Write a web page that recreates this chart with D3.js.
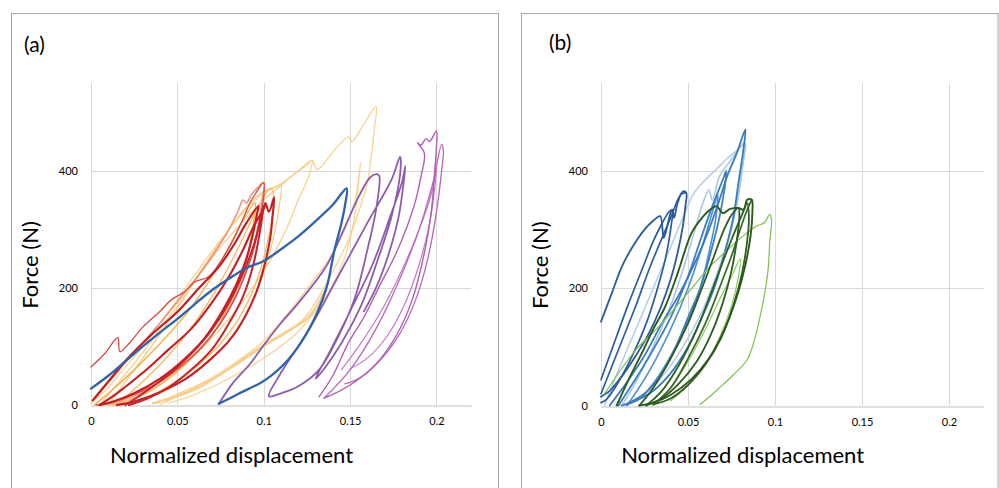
<!DOCTYPE html>
<html><head><meta charset="utf-8">
<script src="https://cdn.jsdelivr.net/npm/d3@7"></script>
<style>body{margin:0;background:#fff}svg{display:block}text{font-family:Lato,"Open Sans",sans-serif;fill:#000}</style>
</head><body><svg id="c" width="999" height="488"></svg>
<script>
// ---------- axis data ----------
const xTicks = [0, 0.05, 0.1, 0.15, 0.2];
const xTickLabels = ["0", "0.05", "0.1", "0.15", "0.2"];
const yTicks = [0, 200, 400];
const yTickLabels = ["0", "200", "400"];
const xDomain = [0, 0.22];
const yDomain = [0, 550];
const panelLabels = ["(a)", "(b)"];
const xTitle = "Normalized displacement";
const yTitle = "Force (N)";

// ---------- panel (a) curves [displacement, force] ----------
const aBlue = [[0,28],[0.01,50],[0.02,75],[0.03,100],[0.04,124],[0.05,147],[0.06,172],[0.07,196],[0.08,216],[0.09,234],[0.1,246],[0.11,266],[0.12,288],[0.13,314],[0.14,342],[0.148,370],[0.147,340],[0.145,311],[0.141,265],[0.136,197],[0.126,128],[0.114,77],[0.101,43],[0.086,20],[0.074,2]];
const aPurple = [[0.074,2],[0.082,37],[0.092,70],[0.101,106],[0.11,140],[0.12,174],[0.136,236],[0.147,304],[0.155,356],[0.162,390],[0.166,394],[0.167,390],[0.165,333],[0.16,265],[0.153,185],[0.143,116],[0.132,60],[0.12,32],[0.11,20],[0.103,15],[0.11,55],[0.126,128],[0.143,219],[0.16,311],[0.174,385],[0.179,424],[0.179,395],[0.174,322],[0.166,248],[0.157,174],[0.145,106],[0.135,62],[0.13,45],[0.138,90],[0.15,160],[0.163,240],[0.173,320],[0.18,380],[0.182,408],[0.181,380],[0.178,320],[0.172,255],[0.165,200],[0.158,160]];
const aPink1 = [[0.132,14],[0.14,50],[0.149,106],[0.158,150],[0.168,209],[0.176,255],[0.183,305],[0.188,350],[0.191,390],[0.193,430],[0.189,448],[0.191,444],[0.194,455],[0.196,450],[0.2,468],[0.2,440],[0.199,400],[0.197,330],[0.193,260],[0.186,180],[0.177,120],[0.165,70],[0.152,38],[0.14,18],[0.135,12]];
const aPink2 = [[0.135,12],[0.15,60],[0.165,130],[0.178,210],[0.19,300],[0.198,380],[0.203,445],[0.204,435],[0.203,400],[0.2,330],[0.195,250],[0.188,180],[0.178,118],[0.166,72],[0.155,45],[0.147,36]];
const aPink3 = [[0.145,60],[0.155,100],[0.168,160],[0.18,230],[0.19,300],[0.197,360],[0.2,405],[0.199,370],[0.196,310],[0.19,240],[0.182,175],[0.172,120],[0.16,80],[0.15,62]];
const aLightOrange1 = [[0,2],[0.01,30],[0.02,65],[0.03,100],[0.04,140],[0.05,180],[0.06,222],[0.07,262],[0.08,300],[0.09,335],[0.1,362],[0.11,378],[0.12,400],[0.128,418],[0.131,402],[0.14,432],[0.149,458],[0.151,450],[0.158,480],[0.165,510],[0.164,470],[0.162,420],[0.16,380],[0.155,330],[0.149,282],[0.14,228],[0.133,190],[0.124,150],[0.112,122],[0.1,100],[0.085,70],[0.07,45],[0.055,25],[0.045,12],[0.036,3]];
const aLightOrange2 = [[0.005,0],[0.015,35],[0.03,90],[0.045,150],[0.06,210],[0.075,270],[0.09,320],[0.1,350],[0.11,375],[0.118,395],[0.125,410],[0.128,418],[0.126,390],[0.12,350],[0.113,300],[0.103,243],[0.09,185],[0.075,130],[0.06,85],[0.045,48],[0.03,20],[0.018,5],[0.01,0]];
const aLightOrange3 = [[0.01,0],[0.02,40],[0.035,100],[0.05,165],[0.065,235],[0.08,300],[0.092,345],[0.1,365],[0.107,372],[0.11,376],[0.109,340],[0.106,290],[0.101,235],[0.094,180],[0.085,130],[0.073,88],[0.06,55],[0.045,28],[0.03,10],[0.02,2]];
const aLightOrange4 = [[0.04,0],[0.06,30],[0.08,65],[0.1,110],[0.115,160],[0.128,210],[0.138,250],[0.147,300],[0.153,350],[0.156,413],[0.155,380],[0.152,311],[0.147,253],[0.14,205],[0.13,160],[0.118,120],[0.105,90],[0.09,62],[0.075,38],[0.06,18],[0.045,3]];
const aPaleBand = [[0.036,3],[0.05,15],[0.063,31],[0.08,62],[0.1,102],[0.115,128],[0.126,150],[0.136,197]];
const aOrange1 = [[0.002,0],[0.012,25],[0.025,60],[0.04,105],[0.055,155],[0.068,210],[0.078,260],[0.086,305],[0.092,335],[0.095,345],[0.094,310],[0.091,260],[0.086,210],[0.079,165],[0.07,120],[0.06,85],[0.048,52],[0.035,25],[0.022,8],[0.012,0]];
const aOrange2 = [[0.015,0],[0.03,40],[0.045,85],[0.06,140],[0.072,195],[0.083,255],[0.092,310],[0.098,345],[0.104,370],[0.106,345],[0.103,290],[0.099,240],[0.093,190],[0.085,145],[0.075,105],[0.062,68],[0.048,38],[0.035,16],[0.025,3]];
const aCrimson = [[0,65],[0.008,88],[0.0155,115],[0.0167,91],[0.022,105],[0.03,133],[0.04,160],[0.0466,180],[0.054,193],[0.06,210],[0.068,219],[0.075,245],[0.082,280],[0.088,318],[0.092,345],[0.095,360],[0.1,380],[0.1,355],[0.098,320],[0.095,275],[0.09,228],[0.083,180],[0.074,135],[0.064,98],[0.052,66],[0.04,40],[0.025,18],[0.012,5],[0.003,0]];
const aSalmon = [[0.002,10],[0.012,45],[0.025,90],[0.04,140],[0.055,195],[0.068,245],[0.078,290],[0.085,330],[0.088,350],[0.09,345],[0.093,360],[0.096,370],[0.1,380],[0.099,350],[0.097,310],[0.093,260],[0.087,210],[0.079,160],[0.07,120],[0.058,82],[0.045,50],[0.03,22],[0.015,5],[0.005,0]];
const aRed1 = [[0.001,8],[0.01,40],[0.022,82],[0.035,120],[0.051,162],[0.062,198],[0.074,236],[0.083,275],[0.09,311],[0.097,340],[0.096,325],[0.094,295],[0.09,250],[0.084,205],[0.076,160],[0.066,115],[0.054,78],[0.04,45],[0.025,20],[0.012,5],[0.005,0]];
const aRed2 = [[0.005,0],[0.015,20],[0.03,55],[0.045,95],[0.058,130],[0.07,175],[0.08,220],[0.088,265],[0.095,310],[0.1,335],[0.101,345],[0.103,330],[0.106,355],[0.105,320],[0.104,290],[0.101,245],[0.096,195],[0.089,150],[0.08,110],[0.068,75],[0.055,45],[0.04,22],[0.025,6],[0.015,0]];
const aRed3 = [[0.02,0],[0.035,30],[0.05,65],[0.065,110],[0.078,165],[0.088,225],[0.095,280],[0.099,330],[0.1,340],[0.098,300],[0.094,240],[0.088,185],[0.08,140],[0.07,95],[0.058,60],[0.045,30],[0.032,10],[0.022,0]];

// ---------- panel (b) curves ----------
const bDarkBlue1 = [[0,143],[0.006,190],[0.012,237],[0.018,270],[0.025,300],[0.03,315],[0.034,323],[0.036,286],[0.038,305],[0.04,329],[0.041,334],[0.042,320],[0.044,345],[0.047,365],[0.049,363],[0.0485,340],[0.047,305],[0.044,260],[0.04,215],[0.034,165],[0.027,120],[0.02,85],[0.012,50],[0.005,25],[0,15]];
const bDarkBlue2 = [[0,44],[0.008,110],[0.016,175],[0.024,235],[0.03,280],[0.035,310],[0.039,330],[0.041,334],[0.04,300],[0.037,250],[0.032,195],[0.026,140],[0.018,85],[0.01,40],[0.003,10],[0,5]];
const bDarkBlue3 = [[0,20],[0.01,95],[0.02,170],[0.028,235],[0.035,285],[0.04,320],[0.046,360],[0.049,363]];
const bBlue1 = [[0.005,0],[0.015,40],[0.025,85],[0.035,140],[0.045,190],[0.055,250],[0.062,300],[0.068,350],[0.073,395],[0.078,430],[0.083,471],[0.082,440],[0.079,380],[0.076,320],[0.071,260],[0.065,200],[0.058,150],[0.05,100],[0.04,55],[0.03,25],[0.02,8],[0.012,0]];
const bBlue2 = [[0.01,0],[0.025,70],[0.04,150],[0.05,220],[0.058,290],[0.064,340],[0.07,385],[0.072,400],[0.071,370],[0.068,320],[0.063,260],[0.057,200],[0.05,150],[0.043,100],[0.035,55],[0.025,20],[0.015,3]];
const bBlue3 = [[0.015,0],[0.028,60],[0.04,130],[0.05,200],[0.058,270],[0.064,330],[0.067,360],[0.066,320],[0.062,260],[0.057,200],[0.05,145],[0.042,95],[0.033,50],[0.024,15]];
const bLightBlue1 = [[0.012,0],[0.02,40],[0.03,100],[0.04,170],[0.048,240],[0.054,300],[0.058,340],[0.062,368],[0.064,350],[0.068,390],[0.075,420],[0.08,440],[0.083,447],[0.082,420],[0.08,380],[0.077,330],[0.072,270],[0.066,210],[0.058,150],[0.05,100],[0.04,55],[0.03,25],[0.02,8],[0.015,0]];
const bLightBlue2 = [[0.002,0],[0.01,60],[0.02,130],[0.03,200],[0.04,270],[0.047,320],[0.053,360],[0.06,385],[0.066,402],[0.072,420],[0.078,435],[0.082,447],[0.081,400],[0.078,340],[0.073,280],[0.066,220],[0.058,160],[0.048,105],[0.038,60],[0.028,28],[0.018,8],[0.01,0]];
const bDarkGreen1 = [[0.009,0],[0.016,45],[0.0234,89],[0.03,130],[0.0368,168],[0.044,225],[0.052,294],[0.058,320],[0.0626,334],[0.0665,340],[0.07,328],[0.074,335],[0.0787,337],[0.082,334],[0.084,351],[0.0866,351],[0.087,330],[0.086,290],[0.083,240],[0.078,185],[0.071,130],[0.062,80],[0.052,45],[0.04,18],[0.03,5],[0.022,0]];
const bDarkGreen2 = [[0.022,0],[0.03,30],[0.04,80],[0.05,140],[0.058,200],[0.065,255],[0.07,295],[0.075,325],[0.079,337],[0.0795,320],[0.078,280],[0.075,230],[0.07,175],[0.063,120],[0.055,75],[0.045,38],[0.035,12],[0.026,0]];
const bDarkGreen3 = [[0.026,0],[0.035,25],[0.045,70],[0.055,130],[0.063,190],[0.07,245],[0.076,290],[0.081,325],[0.084,345],[0.085,320],[0.084,280],[0.081,225],[0.076,170],[0.069,115],[0.06,70],[0.05,35],[0.04,12],[0.03,2]];
const bDarkGreen4 = [[0.03,2],[0.04,30],[0.05,80],[0.06,140],[0.068,200],[0.075,255],[0.08,300],[0.0835,330],[0.0866,351]];
const bLightGreen1 = [[0.002,20],[0.01,55],[0.02,95],[0.033,134],[0.045,175],[0.055,210],[0.062,235],[0.07,258],[0.08,285],[0.0895,306],[0.094,312],[0.097,326],[0.098,317],[0.097,280],[0.096,231],[0.094,190],[0.091,146],[0.088,110],[0.084,78],[0.076,52],[0.068,30],[0.062,14],[0.057,2]];
const bLightGreen2 = [[0.03,0],[0.04,30],[0.05,75],[0.06,130],[0.068,180],[0.075,220],[0.08,250],[0.079,220],[0.075,170],[0.068,115],[0.06,70],[0.05,35],[0.04,8]];

// ---------- layout & styling ----------
const panels = [
  { frame: [11.5, 13.5, 487, 480], plot: [91, 471, 83, 405], label: [24, 52], yTitleX: 38, series: [
    {d: aPaleBand, c: "#f8cf8e", w: 2.6},
    {d: aLightOrange1, c: "#f9cf8c", w: 1.2},
    {d: aLightOrange2, c: "#f8cd86", w: 1.2},
    {d: aLightOrange3, c: "#f7c978", w: 1.2},
    {d: aLightOrange4, c: "#f9d08e", w: 1.2},
    {d: aOrange1, c: "#f3b24a", w: 1.4},
    {d: aOrange2, c: "#f4bb5c", w: 1.3},
    {d: aSalmon, c: "#e8937a", w: 1.5},
    {d: aCrimson, c: "#d5484a", w: 1.3},
    {d: aRed1, c: "#c41a20", w: 2.1},
    {d: aRed2, c: "#c81d22", w: 2.1},
    {d: aRed3, c: "#cb2027", w: 2.0},
    {d: aPink3, c: "#c27bc4", w: 1.2},
    {d: aPink2, c: "#b866ba", w: 1.3},
    {d: aPink1, c: "#b25fb4", w: 1.4},
    {d: aPurple, c: "#8c5dac", w: 1.8},
    {d: aBlue, c: "#2f63aa", w: 2.3}
  ]},
  { frame: [521.5, 13.5, 476.5, 480], plot: [601, 983.8, 83, 405.5], label: [549, 50], yTitleX: 548, series: [
    {d: bLightGreen2, c: "#8ccc5c", w: 1.2},
    {d: bLightBlue2, c: "#b3cde8", w: 1.5},
    {d: bLightBlue1, c: "#a7c4e4", w: 1.5},
    {d: bBlue3, c: "#4a8fd0", w: 1.6},
    {d: bBlue2, c: "#3a80c4", w: 1.8},
    {d: bBlue1, c: "#357bbf", w: 1.8},
    {d: bDarkBlue3, c: "#2d5fa0", w: 1.7},
    {d: bDarkBlue2, c: "#2a5b9c", w: 1.7},
    {d: bDarkBlue1, c: "#2a5a9a", w: 1.8},
    {d: bLightGreen1, c: "#7dc04b", w: 1.2},
    {d: bDarkGreen4, c: "#346a24", w: 1.7},
    {d: bDarkGreen3, c: "#2f6020", w: 1.8},
    {d: bDarkGreen2, c: "#2d5c1f", w: 1.8},
    {d: bDarkGreen1, c: "#2b5a1d", w: 1.9}
  ]}
];

const svg = d3.select("#c");

panels.forEach((p, i) => {
  const g = svg.append("g");
  const [fx, fy, fw, fh] = p.frame;
  g.append("rect").attr("x", fx).attr("y", fy).attr("width", fw).attr("height", fh)
    .attr("fill", "#fff").attr("stroke", "#a6a6a6").attr("stroke-width", 1);

  const [l, r, t, b] = p.plot;
  const x = d3.scaleLinear().domain(xDomain).range([l, r]);
  const y = d3.scaleLinear().domain(yDomain).range([b, t]);

  // grid
  g.append("g").selectAll("line").data(xTicks).join("line")
    .attr("x1", d => Math.round(x(d)) + 0.5).attr("x2", d => Math.round(x(d)) + 0.5)
    .attr("y1", t).attr("y2", b).attr("stroke", "#d9d9d9").attr("stroke-width", 1);
  g.append("g").selectAll("line").data(yTicks.filter(v => v > 0)).join("line")
    .attr("x1", l).attr("x2", r)
    .attr("y1", d => Math.round(y(d)) + 0.5).attr("y2", d => Math.round(y(d)) + 0.5)
    .attr("stroke", "#d9d9d9").attr("stroke-width", 1);

  // x axis
  const xAxis = d3.axisBottom(x).tickValues(xTicks).tickFormat((d, k) => xTickLabels[k]).tickSize(0).tickPadding(12);
  const xa = g.append("g").attr("transform", `translate(0,${Math.round(b) + 0.5})`).call(xAxis);
  xa.select(".domain").attr("stroke", "#bfbfbf").attr("stroke-width", 1.2);
  xa.selectAll("text").attr("font-size", 11).attr("font-family", "Lato, sans-serif").attr("fill", "#000");

  // y axis labels
  const yAxis = d3.axisLeft(y).tickValues(yTicks).tickFormat((d, k) => yTickLabels[k]).tickSize(0).tickPadding(13);
  const ya = g.append("g").attr("transform", `translate(${l},0)`).call(yAxis);
  ya.select(".domain").remove();
  ya.selectAll("text").attr("font-size", 11).attr("font-family", "Lato, sans-serif").attr("fill", "#000");

  // curves
  const line = d3.line().x(d => x(d[0])).y(d => y(d[1])).curve(d3.curveCatmullRom.alpha(0.5));
  g.append("g").attr("fill", "none").attr("stroke-linejoin", "round").attr("stroke-linecap", "round")
    .selectAll("path").data(p.series).join("path")
    .attr("d", s => line(s.d)).attr("stroke", s => s.c).attr("stroke-width", s => s.w);

  // titles
  g.append("text").attr("x", p.label[0]).attr("y", p.label[1]).attr("font-size", 21).text(panelLabels[i]);
  g.append("text").attr("x", (l + (r - l) * 0.37)).attr("y", 463).attr("text-anchor", "middle")
    .attr("font-size", 22).text(xTitle);
  g.append("text").attr("transform", `translate(${p.yTitleX},${(t + b) / 2 + 21}) rotate(-90)`)
    .attr("text-anchor", "middle").attr("font-size", 22).text(yTitle);
});
</script></body></html>
